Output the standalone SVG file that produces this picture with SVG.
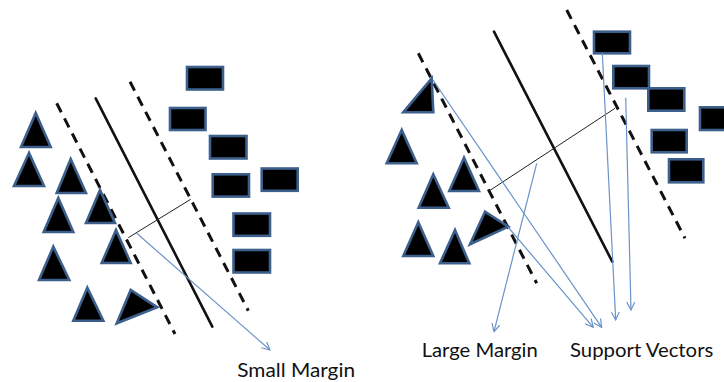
<svg xmlns="http://www.w3.org/2000/svg" width="724" height="382" viewBox="0 0 724 382">
  <style>
    .pt { fill: #000; stroke: #3d5f8c; stroke-width: 2.6; stroke-linejoin: miter; }
    .hyper { stroke: #111; stroke-width: 2.6; fill: none; stroke-linecap: round; }
    .bound { stroke: #111; stroke-width: 3; fill: none; stroke-dasharray: 10 7; }
    .margin { stroke: #222; stroke-width: 1; fill: none; }
    .ptr { stroke: #6a93c8; stroke-width: 1.2; fill: none; marker-end: url(#head); }
    .label { font-family: Lato, "Open Sans", sans-serif; font-size: 19.5px; fill: #111; }
  </style>
  <defs>
    <marker id="head" viewBox="0 0 10 10" refX="9" refY="5" markerWidth="9" markerHeight="9" markerUnits="userSpaceOnUse" orient="auto">
      <path d="M0,0.5 L9,5 L0,9.5" fill="none" stroke="#6a93c8" stroke-width="1.3"/>
    </marker>
  </defs>

  <!-- left panel: narrow separation -->
  <g id="left-boundaries">
    <line class="bound" x1="56.7" y1="103.3" x2="175" y2="334"/>
    <line class="hyper" x1="95.7" y1="98.3" x2="212.3" y2="326.7"/>
    <line class="bound" x1="130" y1="81.7" x2="248.3" y2="310.7"/>
    <line class="margin" x1="128.3" y1="237.7" x2="190.7" y2="199.3"/>
  </g>

  <g id="left-class-a">
    <polygon id="la1" class="pt" points="35.7,113 21,147 50.7,147"/>
    <polygon id="la2" class="pt" points="29,153 14,186 44,186"/>
    <polygon id="la3" class="pt" points="70.7,159 56.7,193 86,193"/>
    <polygon id="la4" class="pt" points="58.3,198 43.7,232 73.3,232"/>
    <polygon id="la5" class="pt" points="100,190 86,223 115,223"/>
    <polygon id="la6" class="pt" points="116,230 101.7,263 130.7,263"/>
    <polygon id="la7" class="pt" points="53.3,246.7 39,280 69.3,280"/>
    <polygon id="la8" class="pt" points="87.3,287.7 73.3,320.7 103.3,320.7"/>
    <polygon id="la9" class="pt" points="130.7,290 116.7,323.3 157.3,307.3"/>
  </g>

  <g id="left-class-b">
    <rect id="lb1" class="pt" x="187" y="67" width="36" height="22.5"/>
    <rect id="lb2" class="pt" x="170" y="108" width="35.5" height="22"/>
    <rect id="lb3" class="pt" x="210" y="136" width="36.5" height="22.5"/>
    <rect id="lb4" class="pt" x="212.7" y="174.3" width="36.3" height="22.3"/>
    <rect id="lb5" class="pt" x="261.7" y="168.5" width="36" height="22.3"/>
    <rect id="lb6" class="pt" x="233.5" y="213.5" width="36.5" height="22.3"/>
    <rect id="lb7" class="pt" x="233.5" y="250" width="36.5" height="22.5"/>
  </g>

  <!-- right panel: wide separation -->
  <g id="right-boundaries">
    <line class="bound" x1="418.3" y1="53.3" x2="536.7" y2="283.3"/>
    <line class="hyper" x1="494" y1="31.7" x2="612.3" y2="261.7"/>
    <line class="bound" x1="566.7" y1="10" x2="685" y2="238.3"/>
    <line class="margin" x1="489" y1="191" x2="615" y2="108.3"/>
  </g>

  <g id="right-class-a">
    <polygon id="ra1" class="pt" points="431.7,78.3 403.3,112.3 433.3,112.3"/>
    <polygon id="ra2" class="pt" points="401.7,130 386.7,163.3 416.7,163.3"/>
    <polygon id="ra3" class="pt" points="464,157.7 449.3,191 479,191"/>
    <polygon id="ra4" class="pt" points="433.3,174.3 418.7,207.7 448.7,207.7"/>
    <polygon id="ra5" class="pt" points="418.3,222.3 403.3,256 433.3,256"/>
    <polygon id="ra6" class="pt" points="455,230 440,263.3 469.3,263.3"/>
    <polygon id="ra7" class="pt" points="485,211.7 470,244.3 508.3,226.7"/>
  </g>

  <g id="right-class-b">
    <rect id="rb1" class="pt" x="594" y="31.7" width="36" height="21.6"/>
    <rect id="rb2" class="pt" x="613.3" y="66" width="35.7" height="22.3"/>
    <rect id="rb3" class="pt" x="648.3" y="88.3" width="36" height="22.4"/>
    <rect id="rb4" class="pt" x="700" y="107.3" width="36" height="22.7"/>
    <rect id="rb5" class="pt" x="651.7" y="130" width="35" height="22.3"/>
    <rect id="rb6" class="pt" x="669" y="159.3" width="34.3" height="23"/>
  </g>

  <!-- callout arrows -->
  <g id="connectors">
    <line class="ptr" x1="136.7" y1="233.3" x2="270" y2="350"/>
    <line class="ptr" x1="536.7" y1="163.3" x2="494" y2="331.7"/>
    <line class="ptr" x1="433" y1="80" x2="601.7" y2="327.3"/>
    <line class="ptr" x1="508" y1="227" x2="593.3" y2="327.3"/>
    <line class="ptr" x1="602.3" y1="53.3" x2="615.7" y2="320"/>
    <line class="ptr" x1="625.7" y1="97.7" x2="631" y2="310"/>
  </g>

  <g id="labels">
    <text class="label" x="237.3" y="376.7" textLength="117.7" lengthAdjust="spacingAndGlyphs">Small Margin</text>
    <text class="label" x="421.7" y="356.7" textLength="116" lengthAdjust="spacingAndGlyphs">Large Margin</text>
    <text class="label" x="570" y="356.7" textLength="143.3" lengthAdjust="spacingAndGlyphs">Support Vectors</text>
  </g>
</svg>
